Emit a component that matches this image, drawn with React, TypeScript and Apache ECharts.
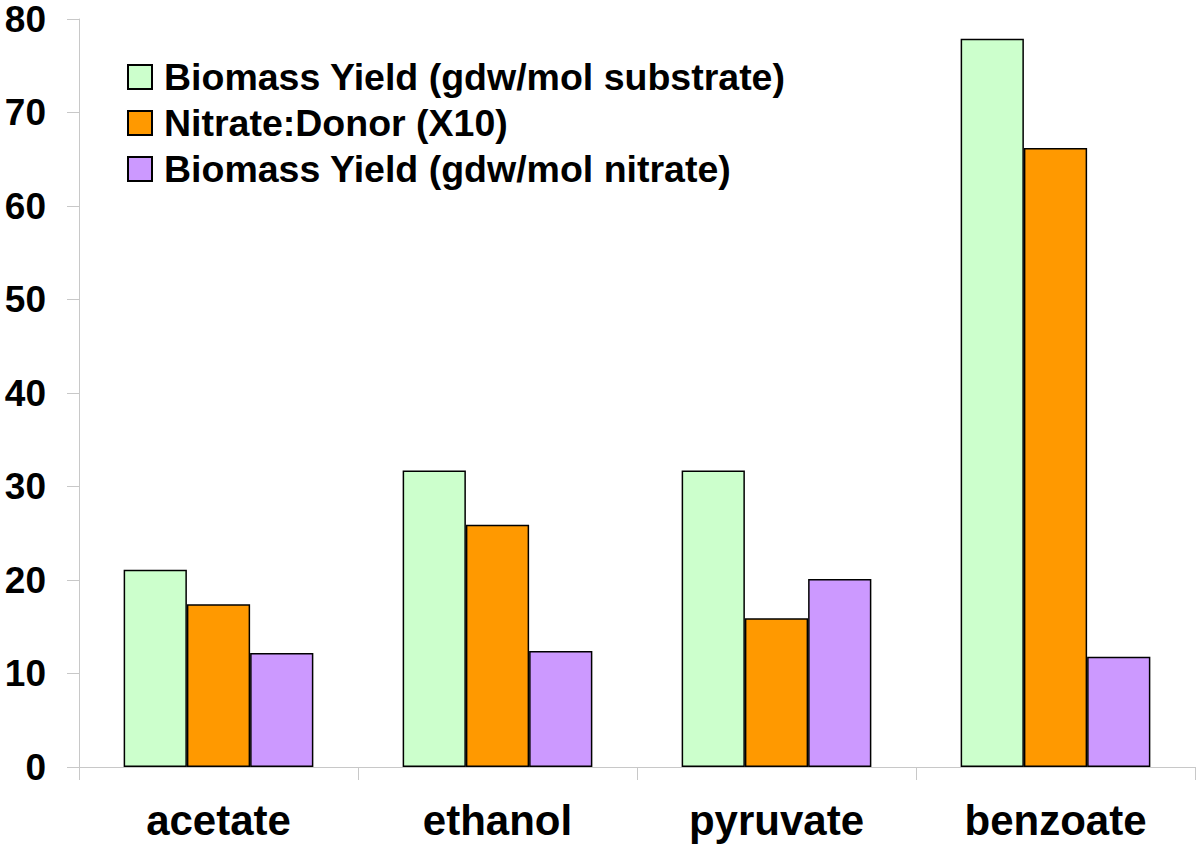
import React, { useEffect, useRef } from "react";
import * as echarts from "echarts";

const categories = ["acetate", "ethanol", "pyruvate", "benzoate"];
const seriesNames = [
  "Biomass Yield (gdw/mol substrate)",
  "Nitrate:Donor (X10)",
  "Biomass Yield (gdw/mol nitrate)",
];
const yieldSubstrate = [21.1, 31.7, 31.7, 77.9];
const nitrateDonor = [17.4, 25.9, 15.9, 66.2];
const yieldNitrate = [12.2, 12.4, 20.1, 11.8];
const colors = ["#CCFFCC", "#FF9900", "#CC99FF"];

const FONT = "'Liberation Sans', Arial, sans-serif";

export default function App() {
  const ref = useRef<HTMLDivElement>(null);
  useEffect(() => {
    if (!ref.current) return;
    const chart = echarts.init(ref.current, undefined, { renderer: "svg" });
    const values = [yieldSubstrate, nitrateDonor, yieldNitrate];
    chart.setOption({
      animation: false,
      backgroundColor: "#ffffff",
      grid: { left: 79, right: 5, top: 19, bottom: 77, containLabel: false },
      legend: {
        orient: "vertical",
        left: 122,
        top: 53,
        itemWidth: 24,
        itemHeight: 24,
        itemGap: 8,
        icon: "rect",
        textStyle: {
          fontFamily: FONT,
          fontWeight: "bold",
          fontSize: 37.5,
          color: "#000",
          lineHeight: 38,
          padding: [0, 0, 0, 7],
        },
        data: seriesNames,
      },
      xAxis: {
        type: "category",
        data: categories,
        axisLine: { show: true, lineStyle: { color: "#c8c8c8", width: 1 } },
        axisTick: { show: true, length: 13, lineStyle: { color: "#c8c8c8" } },
        axisLabel: {
          fontFamily: FONT,
          fontWeight: "bold",
          fontSize: 42,
          color: "#000",
          margin: 32,
        },
      },
      yAxis: {
        type: "value",
        min: 0,
        max: 80,
        interval: 10,
        axisLine: { show: true, lineStyle: { color: "#c8c8c8", width: 1 } },
        axisTick: { show: true, length: 12, lineStyle: { color: "#c8c8c8" } },
        splitLine: { show: false },
        axisLabel: {
          fontFamily: FONT,
          fontWeight: "bold",
          fontSize: 37,
          color: "#000",
          margin: 33,
        },
      },
      series: seriesNames.map((name, i) => ({
        name,
        type: "bar",
        data: values[i],
        barGap: "0%",
        barCategoryGap: "32%",
        itemStyle: {
          color: colors[i],
          borderColor: "#000",
          borderWidth: 1.5,
        },
      })),
    });
    return () => chart.dispose();
  }, []);
  return (
    <div
      ref={ref}
      style={{ position: "fixed", left: 0, top: 0, width: 1200, height: 844 }}
    />
  );
}
